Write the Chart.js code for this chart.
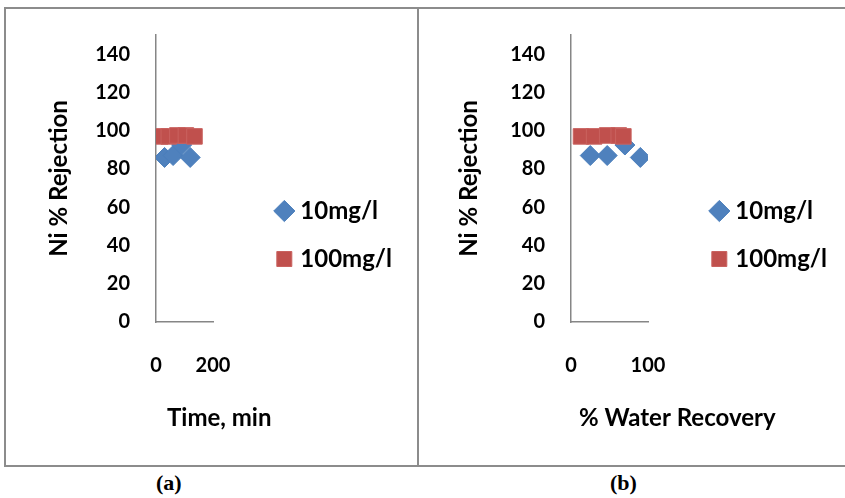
<!DOCTYPE html>
<html>
<head>
<meta charset="utf-8">
<script src="https://cdn.jsdelivr.net/npm/chart.js@4.4.0/dist/chart.umd.min.js"></script>
<style>
  html, body { margin: 0; padding: 0; background: #fff; }
  body { position: relative; width: 845px; height: 498px; overflow: hidden; }
  .box { position: absolute; border: 2px solid #8c8c8c; box-sizing: border-box; }
  #boxA { left: 4px; top: 7px; width: 415px; height: 460px; }
  #boxB { left: 417px; top: 7px; width: 440px; height: 460px; }
  canvas { position: absolute; }
  #chartA { left: 5px; top: 8px; }
  #chartB { left: 419px; top: 8px; }
  .cap { position: absolute; top: 470px; font: bold 22px "Liberation Serif", serif; color: #000; }
</style>
</head>
<body>
<div class="box" id="boxA"></div>
<div class="box" id="boxB"></div>
<canvas id="chartA" width="397" height="457"></canvas>
<canvas id="chartB" width="418" height="457"></canvas>
<div class="cap" style="left:156px">(a)</div>
<div class="cap" style="left:610px">(b)</div>
<script>
const seriesNames = ['10mg/l', '100mg/l'];
const yTicks = [0, 20, 40, 60, 80, 100, 120, 140];

// (a) time, min
const timeA10 = [30, 60, 90, 120];
const rejA10 = [86, 87, 92.5, 86];
const timeA100 = [15, 45, 75, 105, 135];
const rejA100 = [97, 97, 97.5, 97.5, 97];

// (b) % water recovery
const recB10 = [25, 47, 70, 90];
const rejB10 = [87, 87, 92.5, 86];
const recB100 = [13, 30, 47, 62, 68];
const rejB100 = [97, 97, 97.5, 97.5, 97];

const yMax = 150;

Chart.defaults.font.family = 'Lato';
Chart.defaults.font.weight = 'bold';
Chart.defaults.color = '#000';

// x axis title, drawn a little right of the y axis like in the original
const xTitlePlugin = {
    id: 'xTitle',
    afterDraw(chart, args, opts) {
        const { ctx, chartArea } = chart;
        ctx.save();
        ctx.font = 'bold 24px Lato';
        ctx.fillStyle = '#000';
        ctx.textAlign = 'left';
        ctx.textBaseline = 'middle';
        ctx.fillText(opts.text, chartArea.left + opts.dx, chartArea.bottom + 96);
        ctx.restore();
    }
};

function toPoints(xs, ys) {
    return xs.map((x, i) => ({ x: x, y: ys[i] }));
}

function makeChart(id, xs10, ys10, xs100, ys100, xMax, cfg) {
    const ctx = document.getElementById(id);
    new Chart(ctx, {
        type: 'scatter',
        data: {
            datasets: [{
                label: seriesNames[0],
                data: toPoints(xs10, ys10),
                pointStyle: 'rectRot',
                pointRadius: 10,
                backgroundColor: '#4f81bd',
                borderColor: '#4a7ebb',
                borderWidth: 1,
                order: 1,
            },
            {
                label: seriesNames[1],
                data: toPoints(xs100, ys100),
                pointStyle: 'rect',
                pointRadius: 11,
                backgroundColor: '#c0504d',
                borderColor: '#c9625f',
                borderWidth: 1,
                order: 0,
            }]
        },
        options: {
            responsive: false,
            animation: false,
            layout: { padding: { top: 0, right: 0, bottom: 3, left: 0 } },
            scales: {
                x: {
                    type: 'linear',
                    min: 0,
                    max: xMax,
                    grid: { display: false, drawTicks: false },
                    border: { display: true, color: '#868686', width: 1.5 },
                    ticks: { stepSize: xMax, padding: 32, font: { size: 20, weight: 'bold' } },
                    afterFit(scale) { scale.height = 140; },
                },
                y: {
                    min: 0,
                    max: yMax,
                    grid: { display: false, drawTicks: false },
                    border: { display: true, color: '#868686', width: 1.5 },
                    ticks: { padding: 26, font: { size: 20, weight: 'bold' } },
                    title: {
                        display: true,
                        text: 'Ni % Rejection',
                        font: { size: 24, weight: 'bold' },
                        padding: { top: cfg.yTitlePad, bottom: 0 },
                    },
                    afterBuildTicks(scale) {
                        scale.ticks = yTicks.map(v => ({ value: v }));
                    },
                    afterFit(scale) {
                        scale.width = cfg.yWidth;
                        scale.paddingTop = 27;
                    },
                },
                // empty spacer between plot and legend
                gap: {
                    type: 'linear',
                    position: 'right',
                    grid: { display: false, drawTicks: false },
                    border: { display: false },
                    ticks: { display: false },
                    afterFit(scale) {
                        const lw = scale.chart.legend ? scale.chart.legend.width : 0;
                        scale.width = Math.max(0, scale.chart.width - lw - cfg.plotRight);
                    },
                },
            },
            plugins: {
                tooltip: { enabled: false },
                xTitle: { text: cfg.xTitle, dx: cfg.xTitleDx },
                legend: {
                    position: 'right',
                    maxWidth: 300,
                    labels: {
                        usePointStyle: true,
                        boxWidth: 8,
                        boxHeight: 15,
                        padding: 24,
                        color: '#000',
                        font: { size: 24, weight: 'bold' },
                        sort: (a, b) => a.datasetIndex - b.datasetIndex,
                    },
                },
            }
        },
        plugins: [xTitlePlugin]
    });
}

makeChart('chartA', timeA10, rejA10, timeA100, rejA100, 200,
    { yWidth: 151, plotRight: 208, yTitlePad: 40, xTitle: 'Time, min', xTitleDx: 11 });
makeChart('chartB', recB10, rejB10, recB100, rejB100, 100,
    { yWidth: 152, plotRight: 229, yTitlePad: 36, xTitle: '% Water Recovery', xTitleDx: 8 });
</script>
</body>
</html>
